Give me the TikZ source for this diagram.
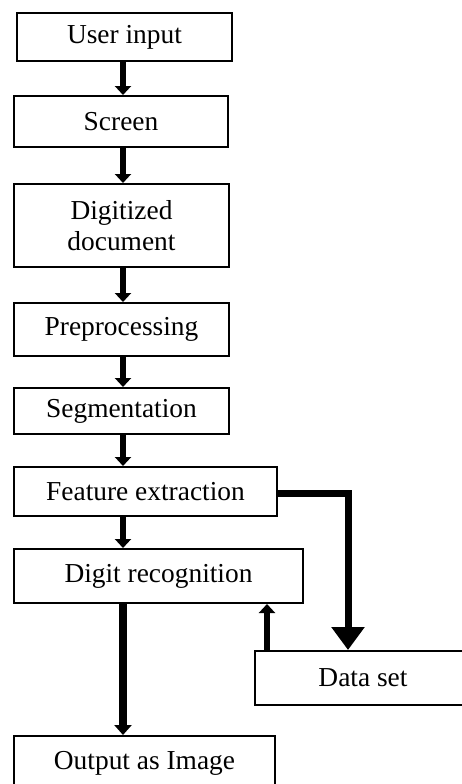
\documentclass[tikz,border=0pt]{standalone}
\usepackage{fontspec}
\setmainfont{Liberation Serif}
\usetikzlibrary{arrows.meta}
\tikzset{
  box/.style={draw=black, line width=2pt, inner sep=0pt, align=center,
    font=\fontsize{27.4}{31}\selectfont},
  flow/.style={line width=6pt, -{Triangle[width=16pt,length=9pt]}},
  bigflow/.style={line width=8pt, -{Triangle[width=17pt,length=10pt]}},
  dataflow/.style={line width=7pt, -{Triangle[width=32pt,length=23pt]}},
}
\begin{document}
\begin{tikzpicture}[x=1pt,y=-1pt]
\clip (0,0) rectangle (462,784);
\useasboundingbox (0,0) rectangle (462,784);
\node[box, minimum width=215pt, minimum height=48pt] (ui) at (124.5,37) {User input};
\node[box, minimum width=214pt, minimum height=51pt] (sc) at (121,121.5) {Screen};
\node[box, minimum width=215pt, minimum height=83pt] (dd) at (121.5,225.5) {Digitized\\document};
\node[box, minimum width=215pt, minimum height=53pt] (pp) at (121.5,329.5) {Preprocessing};
\node[box, minimum width=215pt, minimum height=46pt] (sg) at (121.5,411) {Segmentation};
\node[box, minimum width=263pt, minimum height=49pt] (fe) at (145.5,491.5) {Feature extraction};
\node[box, minimum width=289pt, minimum height=54pt] (dr) at (158.5,576) {Digit recognition};
\node[box, minimum width=216pt, minimum height=54pt] (ds) at (363,678) {Data set};
\node[box, minimum width=261pt, minimum height=54pt] (out) at (144.5,763) {Output as Image};
\coordinate (ax) at (123,0);
\draw[flow] (ui.south -| ax) -- (sc.north -| ax);
\draw[flow] (sc.south -| ax) -- (dd.north -| ax);
\draw[flow] (dd.south -| ax) -- (pp.north -| ax);
\draw[flow] (pp.south -| ax) -- (sg.north -| ax);
\draw[flow] (sg.south -| ax) -- (fe.north -| ax);
\draw[flow] (fe.south -| ax) -- (dr.north -| ax);
\draw[bigflow] (dr.south -| ax) -- (out.north -| ax);
\draw[dataflow] ([yshift=-1.5pt]fe.east) -| ([xshift=-15pt]ds.north);
\draw[flow] ([xshift=-96pt]ds.north) -- ([xshift=-96pt]ds.north |- dr.south);
\end{tikzpicture}
\end{document}
